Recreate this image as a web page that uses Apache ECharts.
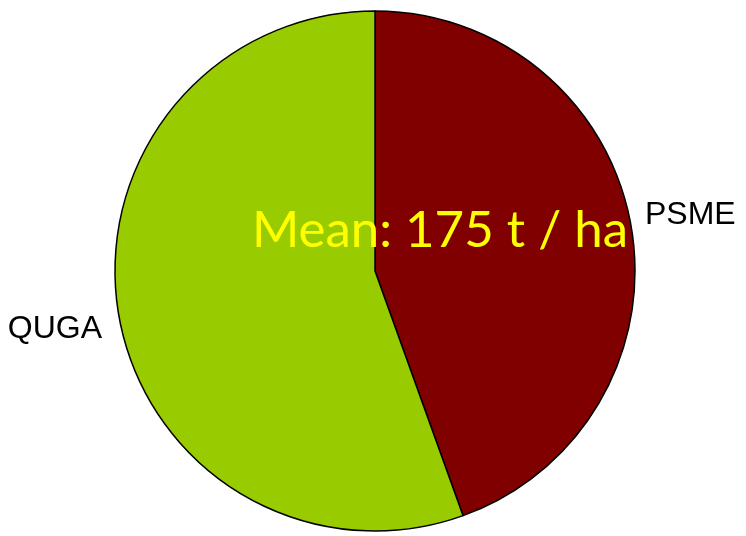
<!DOCTYPE html>
<html>
<head>
<meta charset="utf-8">
<script src="https://cdn.jsdelivr.net/npm/echarts@6/dist/echarts.min.js"></script>
<style>
html, body { margin: 0; padding: 0; background: #fff; }
#charts { width: 746px; height: 536px; }
</style>
</head>
<body>
<div id="charts"></div>
<script>
var species = ['PSME', 'QUGA'];
var shares = [44.5, 55.5];
var colors = ['#800000', '#99CC00'];
var meanText = 'Mean: 175 t / ha';

var myChart = echarts.init(document.getElementById('charts'));

var pieData = species.map(function (name, i) {
    return { name: name, value: shares[i], itemStyle: { color: colors[i] } };
});

// label spots, roughly where R's pie() puts them
var labelSpots = [
    { x: 645, y: 215, align: 'left' },
    { x: 102, y: 329, align: 'right' }
];

var option = {
    animation: false,
    backgroundColor: '#ffffff',
    series: [
        {
            type: 'pie',
            center: [375, 271],
            radius: [0, 260],
            startAngle: 90,
            clockwise: true,
            data: pieData,
            itemStyle: { borderColor: '#000', borderWidth: 1.5 },
            label: {
                show: true,
                position: 'outside',
                formatter: '{b}',
                color: '#000',
                fontFamily: 'Liberation Sans',
                fontSize: 32,
                overflow: 'none',
                edgeDistance: 0,
                bleedMargin: 0
            },
            labelLine: { show: false },
            labelLayout: function (params) {
                var s = labelSpots[params.dataIndex];
                return { x: s.x, y: s.y, align: s.align, verticalAlign: 'middle' };
            },
            emphasis: { disabled: true }
        }
    ],
    graphic: [
        {
            type: 'text',
            z: 100,
            style: {
                x: 440,
                y: 231,
                text: meanText,
                fill: '#ffff00',
                font: '51px Lato',
                align: 'center',
                verticalAlign: 'middle'
            }
        }
    ]
};
myChart.setOption(option);
</script>
</body>
</html>
